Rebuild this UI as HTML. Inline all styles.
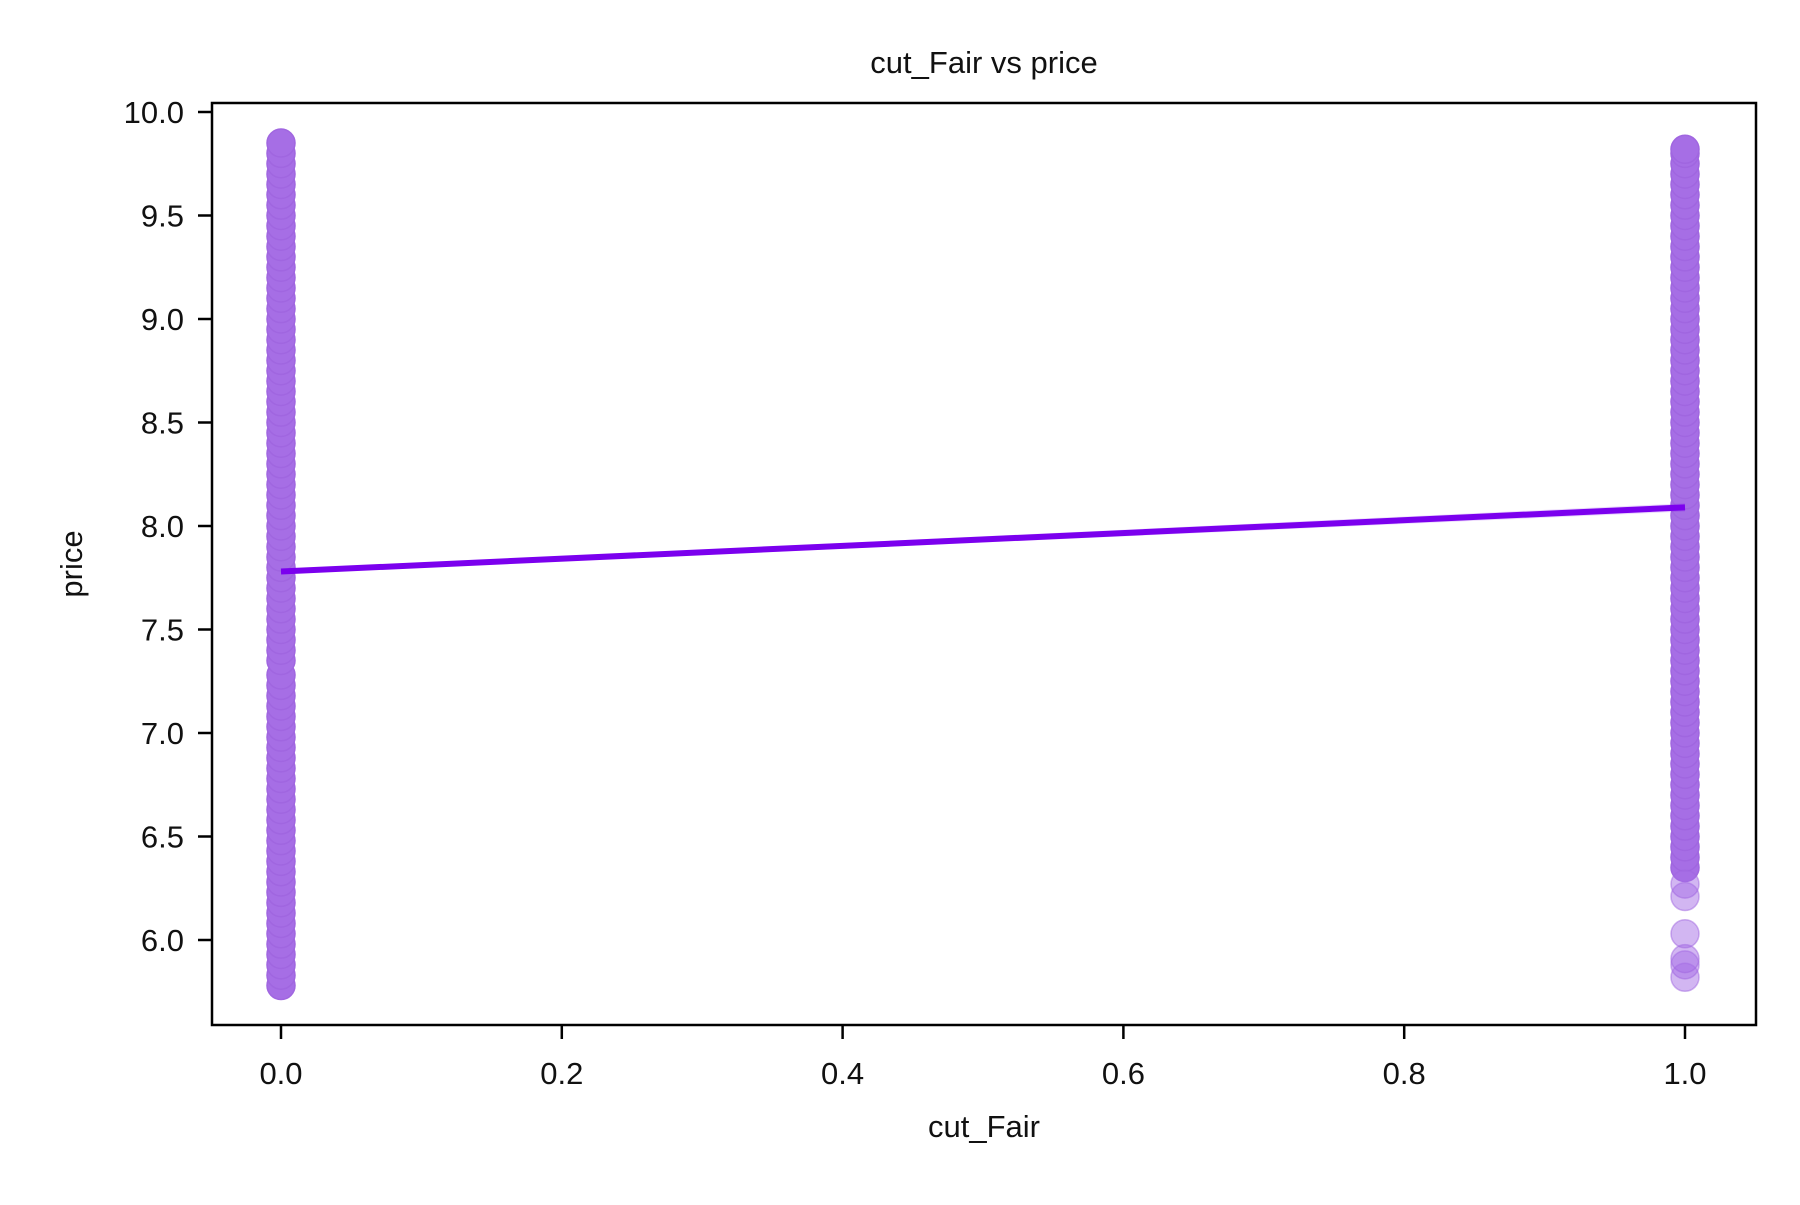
<!DOCTYPE html>
<html><head><meta charset="utf-8"><style>
body{margin:0;background:#fff}
svg text{font-family:"Liberation Sans",sans-serif;fill:#111}
</style></head><body>
<svg id="chart" width="1800" height="1200" xmlns="http://www.w3.org/2000/svg">
<rect width="1800" height="1200" fill="#fff"/>
<text x="984" y="73" font-size="31" text-anchor="middle">cut_Fair vs price</text>
<g id="marks"></g>
<rect x="212" y="103" width="1544" height="922" fill="none" stroke="#000" stroke-width="2.5"/>
<g id="axes"></g>
<text x="984" y="1137" font-size="31" text-anchor="middle">cut_Fair</text>
<text x="82" y="564" font-size="31" text-anchor="middle" transform="rotate(-90 82 564)">price</text>
</svg>
<script>
const xTicks=[0.0,0.2,0.4,0.6,0.8,1.0];
const xTickLabels=["0.0","0.2","0.4","0.6","0.8","1.0"];
const yTicks=[6.0,6.5,7.0,7.5,8.0,8.5,9.0,9.5,10.0];
const yTickLabels=["6.0","6.5","7.0","7.5","8.0","8.5","9.0","9.5","10.0"];
const pricesFair0=[5.78,5.83,5.88,5.93,5.98,6.03,6.08,6.13,6.18,6.23,6.28,6.33,6.38,6.43,6.48,6.53,6.58,6.63,6.68,6.73,6.78,6.83,6.88,6.93,6.98,7.03,7.08,7.13,7.18,7.23,7.28,7.35,7.40,7.45,7.50,7.55,7.60,7.65,7.70,7.75,7.80,7.85,7.90,7.95,8.00,8.05,8.10,8.15,8.20,8.25,8.30,8.35,8.40,8.45,8.50,8.55,8.60,8.65,8.70,8.75,8.80,8.85,8.90,8.95,9.00,9.05,9.10,9.15,9.20,9.25,9.30,9.35,9.40,9.45,9.50,9.55,9.60,9.65,9.70,9.75,9.80,9.85];
const pricesFair1=[6.35,6.40,6.45,6.50,6.55,6.60,6.65,6.70,6.75,6.80,6.85,6.90,6.95,7.00,7.05,7.10,7.15,7.20,7.25,7.30,7.35,7.40,7.45,7.50,7.55,7.60,7.65,7.70,7.75,7.80,7.85,7.90,7.95,8.00,8.05,8.10,8.15,8.20,8.25,8.30,8.35,8.40,8.45,8.50,8.55,8.60,8.65,8.70,8.75,8.80,8.85,8.90,8.95,9.00,9.05,9.10,9.15,9.20,9.25,9.30,9.35,9.40,9.45,9.50,9.55,9.60,9.65,9.70,9.75,9.80,9.82];
const outliersFair1=[5.82,5.88,5.91,6.03,6.21,6.27];
const fitX=[0,1];
const fitY=[7.78,8.09];
const NS="http://www.w3.org/2000/svg";
const xs=v=>281+v*1404;
const ys=v=>112+(10-v)*207;
const marks=document.getElementById('marks');
const axes=document.getElementById('axes');
function mk(t,a,p){const e=document.createElementNS(NS,t);for(const k in a)e.setAttribute(k,a[k]);p.appendChild(e);return e;}
[[0,pricesFair0,1],[1,pricesFair1,1],[1,outliersFair1,0.5]].forEach(([xv,arr,op])=>{
  arr.forEach(v=>{
    const c=mk('circle',{cx:xs(xv),cy:ys(v),r:14,fill:'#a66ee5','fill-opacity':op,stroke:'#a066e0','stroke-opacity':op,'stroke-width':1.5},marks);
    
    
  });
});
const band=mk('polygon',{points:`${xs(0)},${ys(fitY[0]-0.01)} ${xs(1)},${ys(fitY[1]-0.02)} ${xs(1)},${ys(fitY[1]+0.02)} ${xs(0)},${ys(fitY[0]+0.01)}`,fill:'#7b00ee','fill-opacity':0.15},marks);


const ln=mk('line',{x1:xs(fitX[0]),y1:ys(fitY[0]),x2:xs(fitX[1]),y2:ys(fitY[1]),stroke:'#7b00ee','stroke-width':6},marks);


xTicks.forEach((v,i)=>{
  const t=mk('line',{x1:xs(v),x2:xs(v),y1:1025,y2:1039,stroke:'#000','stroke-width':2.5},axes);
  
  
  const l=mk('text',{x:xs(v),y:1084,'font-size':31,'text-anchor':'middle'},axes);
  l.textContent=xTickLabels[i];
  
  
});
yTicks.forEach((v,i)=>{
  const t=mk('line',{x1:198,x2:212,y1:ys(v),y2:ys(v),stroke:'#000','stroke-width':2.5},axes);
  
  
  const l=mk('text',{x:184,y:ys(v)+11,'font-size':31,'text-anchor':'end'},axes);
  l.textContent=yTickLabels[i];
  
  
});
</script>
</body></html>
